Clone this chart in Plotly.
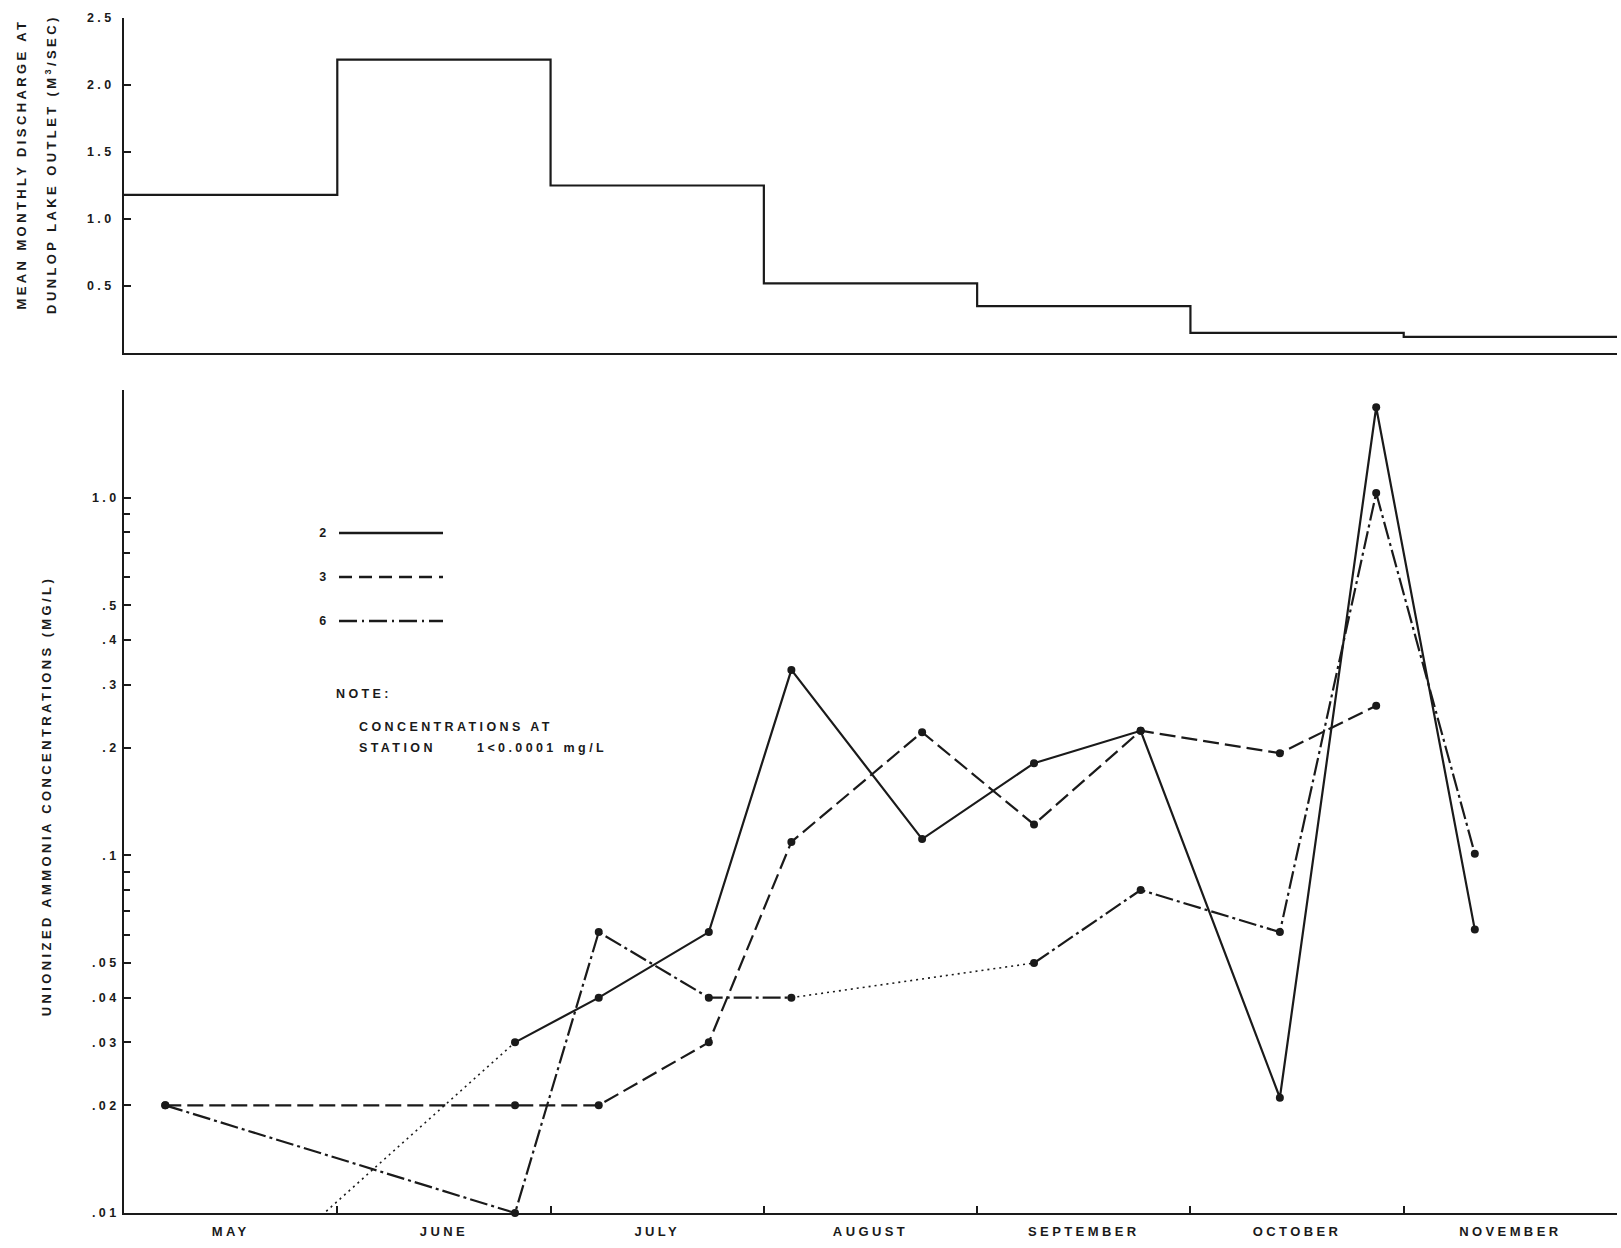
import calendar
import math
import plotly.graph_objects as go

# ---------------------------------------------------------------- data
months = ["MAY", "JUNE", "JULY", "AUGUST", "SEPTEMBER", "OCTOBER", "NOVEMBER"]
first_month = 5
year = 1985

# mean monthly discharge at Dunlop Lake outlet (m3/s), May..November
discharge = [1.18, 2.19, 1.25, 0.52, 0.35, 0.15, 0.12]
discharge_ticks = [0.5, 1.0, 1.5, 2.0, 2.5]
discharge_ticktext = ["0.5", "1.0", "1.5", "2.0", "2.5"]

# sampling dates (MM-DD) and unionized ammonia (mg/L) per station
sample_dates = ["05-07", "06-26", "07-08", "07-24", "08-05", "08-24",
                "09-09", "09-24", "10-14", "10-28", "11-11"]
station_2 = [0.004, 0.030, 0.040, 0.061, 0.330, 0.111, 0.181, 0.223, 0.021, 1.79, 0.062]
station_3 = [0.020, 0.020, 0.020, 0.030, 0.109, 0.221, 0.122, 0.223, 0.193, 0.262, None]
station_6 = [0.020, 0.010, 0.061, 0.040, 0.040, None, 0.050, 0.080, 0.061, 1.03, 0.101]

# links drawn as dotted lines (index pairs into sample_dates)
station_2_dotted = [(0, 1)]
station_6_dotted = [(4, 6)]

conc_ticks = [0.01, 0.02, 0.03, 0.04, 0.05, 0.1, 0.2, 0.3, 0.4, 0.5, 1.0]
conc_ticktext = [".01", ".02", ".03", ".04", ".05", ".1", ".2", ".3", ".4", ".5", "1.0"]
conc_minor = [0.06, 0.07, 0.08, 0.09, 0.6, 0.7, 0.8, 0.9]
conc_min, conc_max = 0.01, 2.0

# ---------------------------------------------------------------- helpers
def month_pos(mmdd):
    m, d = (int(p) for p in mmdd.split("-"))
    ndays = calendar.monthrange(year, m)[1]
    return (m - first_month) + (d - 1) / ndays


x_samples = [month_pos(s) for s in sample_dates]
n_months = len(months)

INK = "#1a1a1a"
FONT = "Liberation Sans"
W, H = 1621, 1248
L, R, T, B = 124, 4, 18, 35
PW, PH = W - L - R, H - T - B


def fx(xp):
    return (xp - L) / PW


def fy(yp):
    return (H - B - yp) / PH


def station_traces(name, vals, dash, dotted_pairs):
    valid = [i for i, v in enumerate(vals) if v is not None]
    xs, ys = [], []
    for k, i in enumerate(valid):
        if k > 0 and (valid[k - 1], i) in dotted_pairs:
            xs.append(None)
            ys.append(None)
        xs.append(x_samples[i])
        ys.append(vals[i])
    traces = [go.Scatter(x=xs, y=ys, mode="lines", name=name,
                         line=dict(color=INK, width=2.2, dash=dash),
                         xaxis="x", yaxis="y", showlegend=False)]
    if dotted_pairs:
        dx, dy = [], []
        for a, b in dotted_pairs:
            dx += [x_samples[a], x_samples[b], None]
            dy += [vals[a], vals[b], None]
        traces.append(go.Scatter(x=dx, y=dy, mode="lines", name=name + " (link)",
                                 line=dict(color=INK, width=1.6, dash="2px,4px"),
                                 xaxis="x", yaxis="y", showlegend=False))
    mx = [x_samples[i] for i in valid if vals[i] >= conc_min]
    my = [vals[i] for i in valid if vals[i] >= conc_min]
    traces.append(go.Scatter(x=mx, y=my, mode="markers", name=name,
                             marker=dict(color=INK, size=8),
                             cliponaxis=False, xaxis="x", yaxis="y",
                             showlegend=False))
    return traces


# ---------------------------------------------------------------- figure
fig = go.Figure()

# discharge step line
step_x = list(range(n_months + 1))
step_y = discharge + [discharge[-1]]
fig.add_trace(go.Scatter(x=step_x, y=step_y, mode="lines", line_shape="hv",
                         line=dict(color=INK, width=2.2), xaxis="x2", yaxis="y2",
                         showlegend=False, name="discharge"))

dash_3 = "16px,6px"
dash_6 = "18px,4px,3px,4px"
for tr in station_traces("2", station_2, "solid", station_2_dotted):
    fig.add_trace(tr)
for tr in station_traces("3", station_3, dash_3, []):
    fig.add_trace(tr)
for tr in station_traces("6", station_6, dash_6, station_6_dotted):
    fig.add_trace(tr)

tick_font = dict(family=FONT, size=12.5, color=INK, weight="bold")
label_font = dict(family=FONT, size=13, color=INK, weight="bold")

fig.update_layout(
    width=W, height=H,
    margin=dict(l=L, r=R, t=T, b=B),
    paper_bgcolor="white", plot_bgcolor="white",
    showlegend=False,
    xaxis=dict(
        domain=[0, 1], anchor="y", range=[0, n_months],
        tickmode="array", tickvals=[i + 0.5 for i in range(n_months)],
        ticktext=months, ticks="", tickfont=label_font, ticklabelstandoff=5,
        showline=True, linecolor=INK, linewidth=2, showgrid=False, zeroline=False,
        minor=dict(tickmode="array", tickvals=list(range(1, n_months)),
                   ticks="inside", ticklen=7, tickwidth=1.5, tickcolor=INK,
                   showgrid=False),
    ),
    yaxis=dict(
        domain=[0, fy(390)], anchor="x", type="log",
        range=[math.log10(conc_min), math.log10(conc_max)],
        tickmode="array", tickvals=conc_ticks, ticktext=conc_ticktext,
        ticks="inside", ticklen=7, tickwidth=1.5, tickcolor=INK,
        tickfont=tick_font, ticklabelstandoff=0,
        showline=True, linecolor=INK, linewidth=2, showgrid=False, zeroline=False,
        minor=dict(tickmode="array", tickvals=conc_minor, ticks="inside",
                   ticklen=6, tickwidth=1.5, tickcolor=INK, showgrid=False),
    ),
    xaxis2=dict(
        domain=[0, 1], anchor="y2", range=[0, n_months],
        showticklabels=False, ticks="",
        showline=True, linecolor=INK, linewidth=2, showgrid=False, zeroline=False,
    ),
    yaxis2=dict(
        domain=[fy(353), 1], anchor="x2", range=[0, 2.5],
        tickmode="array", tickvals=discharge_ticks, ticktext=discharge_ticktext,
        ticks="inside", ticklen=7, tickwidth=1.5, tickcolor=INK,
        tickfont=tick_font, ticklabelstandoff=5,
        showline=True, linecolor=INK, linewidth=2, showgrid=False, zeroline=False,
    ),
)

# axis titles
titles = [
    ("MEAN MONTHLY DISCHARGE AT", 21, 164),
    ("DUNLOP LAKE OUTLET (M<sup>3</sup>/SEC)", 51, 164),
    ("UNIONIZED AMMONIA CONCENTRATIONS (MG/L)", 46, 796),
]
for text, xp, yp in titles:
    fig.add_annotation(text=text, x=fx(xp), y=fy(yp), xref="paper", yref="paper",
                       xanchor="center", yanchor="middle", textangle=-90,
                       showarrow=False, font=label_font)

# legend: station number followed by a line sample
legend_rows = [("2", "solid", 533), ("3", "13px,7px", 577), ("6", "18px,5px,2px,5px", 621)]
for label, dash, yp in legend_rows:
    fig.add_annotation(text=label, x=fx(324), y=fy(yp), xref="paper", yref="paper",
                       xanchor="center", yanchor="middle", showarrow=False,
                       font=tick_font)
    fig.add_shape(type="line", xref="paper", yref="paper",
                  x0=fx(339), x1=fx(443), y0=fy(yp), y1=fy(yp),
                  line=dict(color=INK, width=2.4, dash=dash))

# note
notes = [
    ("NOTE:", 334, 694),
    ("CONCENTRATIONS AT", 357, 727),
    ("STATION\u00a0\u00a0\u00a0\u00a0\u00a0 1&lt;0.0001 mg/L", 357, 748),
]
for text, xp, yp in notes:
    fig.add_annotation(text=text, x=fx(xp), y=fy(yp), xref="paper", yref="paper",
                       xanchor="left", yanchor="middle", align="left",
                       showarrow=False, font=tick_font)

# widen the tracking of all lettering, in the style of stencil lettering
spacing_js = """
var gd = document.getElementById('{plot_id}');
gd.querySelectorAll('text').forEach(function (t) { t.style.letterSpacing = '3.4px'; });
"""

fig.write_html("out.html", post_script=spacing_js)
